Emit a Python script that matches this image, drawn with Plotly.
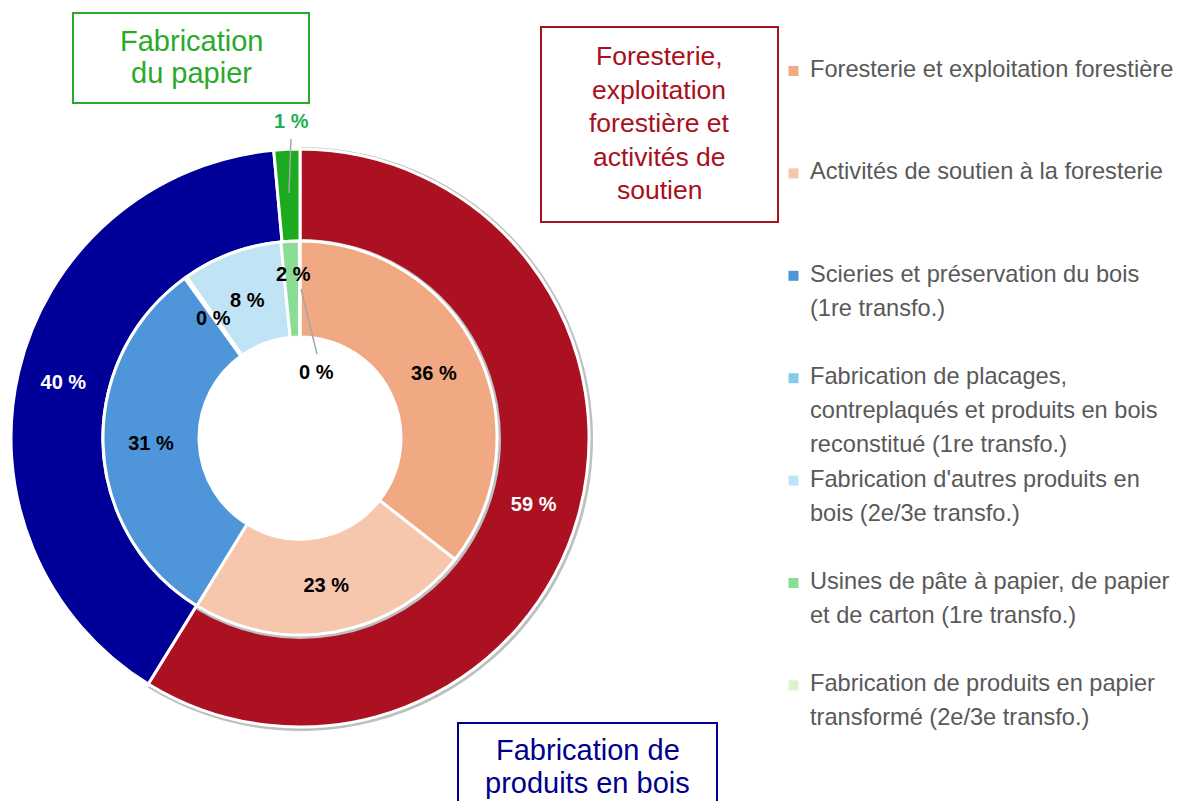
import plotly.graph_objects as go

W, H = 1184, 809          # browser window
OFF = 8                   # default page body margin
FW, FH = W - 2 * OFF, H - 2 * OFF

# ---------------- data ----------------
outer_labels = [
    "Foresterie, exploitation forestière et activités de soutien",
    "Fabrication de produits en bois",
    "Fabrication du papier",
]
outer_values = [58.8, 39.75, 1.45]
outer_colors = ["#AB1120", "#000099", "#1EAA1E"]
outer_shadowed = [True, False, False]

inner_labels = [
    "Foresterie et exploitation forestière",
    "Activités de soutien à la foresterie",
    "Scieries et préservation du bois<br>(1re transfo.)",
    "Fabrication de placages,<br>contreplaqués et produits en bois<br>reconstitué (1re transfo.)",
    "Fabrication d'autres produits en<br>bois (2e/3e transfo.)",
    "Usines de pâte à papier, de papier<br>et de carton (1re transfo.)",
    "Fabrication de produits en papier<br>transformé (2e/3e transfo.)",
]
inner_values = [35.6, 23.2, 31.3, 0.2, 8.2, 1.5, 0.05]
inner_colors = ["#F1A983", "#F6C6AD", "#4E95D9", "#83CAEB", "#C0E4F5", "#89DD94", "#D9F2D0"]
inner_shadowed = [True, True, False, False, False, False, False]

group_titles = [
    ["Foresterie,", "exploitation", "forestière et", "activités de", "soutien"],
    ["Fabrication de", "produits en bois"],
    ["Fabrication", "du papier"],
]
group_colors = ["#A8101E", "#00008B", "#2AAA2A"]

# ---------------- helpers ----------------
def fmt(v):
    return f"{int(v + 0.5)} %"

def px(x):
    return (x - OFF) / FW

def py(y):
    return 1 - (y - OFF) / FH

def dom(cx, cy, r):
    return dict(x=[px(cx - r), px(cx + r)], y=[py(cy + r), py(cy - r)])

CX, CY = 300, 438
R_OUT, R_MID, R_IN = 289, 197, 101
SH = 3
SHADOW = "#BFBFBF"
FONT = "Liberation Sans"

fig = go.Figure()

common = dict(sort=False, direction="clockwise", rotation=0, showlegend=False)

# outer shadow
fig.add_trace(go.Pie(
    labels=outer_labels, values=outer_values,
    marker=dict(colors=[SHADOW if s else "rgba(0,0,0,0)" for s in outer_shadowed], line=dict(width=0)),
    hole=R_MID / (R_OUT + SH), domain=dom(CX + 1, CY + 1, R_OUT + SH),
    textinfo="none", hoverinfo="skip", **common))

# outer ring
fig.add_trace(go.Pie(
    labels=outer_labels, values=outer_values,
    marker=dict(colors=outer_colors, line=dict(color="white", width=3)),
    hole=R_MID / R_OUT, domain=dom(CX, CY, R_OUT),
    text=[fmt(v) if v >= 5 else "" for v in outer_values],
    textinfo="text", textposition="inside", insidetextorientation="horizontal",
    insidetextfont=dict(color="white", size=20, family=FONT, weight="bold"),
    hovertemplate="%{label}: %{value}<extra></extra>", **common))

# inner shadow
fig.add_trace(go.Pie(
    labels=inner_labels, values=inner_values,
    marker=dict(colors=[SHADOW if s else "rgba(0,0,0,0)" for s in inner_shadowed], line=dict(width=0)),
    hole=R_IN / (R_MID + SH), domain=dom(CX + 1, CY + 1, R_MID + SH),
    textinfo="none", hoverinfo="skip", **common))

# inner ring
fig.add_trace(go.Pie(
    labels=inner_labels, values=inner_values,
    marker=dict(colors=inner_colors, line=dict(color="white", width=3)),
    hole=R_IN / R_MID, domain=dom(CX, CY, R_MID),
    text=[fmt(v) if v >= 10 else "" for v in inner_values],
    textinfo="text", textposition="inside", insidetextorientation="horizontal",
    insidetextfont=dict(color="black", size=20, family=FONT, weight="bold"),
    hovertemplate="%{label}: %{value}<extra></extra>", **common))

annotations = []
shapes = []

def ann(text, x, y, color, size, bold=False, xanchor="center"):
    annotations.append(dict(
        text=text, x=px(x), y=py(y), xref="paper", yref="paper",
        xanchor=xanchor, yanchor="middle", showarrow=False,
        font=dict(color=color, size=size, family=FONT, weight="bold" if bold else "normal")))

def line(x0, y0, x1, y1, color="#A6A6A6", width=1.5):
    shapes.append(dict(type="line", xref="paper", yref="paper",
                       x0=px(x0), y0=py(y0), x1=px(x1), y1=py(y1),
                       line=dict(color=color, width=width)))

def rect(x0, y0, x1, y1, color, fill="rgba(0,0,0,0)", width=2):
    shapes.append(dict(type="rect", xref="paper", yref="paper",
                       x0=px(x0), y0=py(y0), x1=px(x1), y1=py(y1),
                       fillcolor=fill, line=dict(color=color, width=width)))

# small-slice labels (some with leader lines)
ann(fmt(outer_values[2]), 291, 121, "#1EAF55", 20, bold=True)
line(291, 139, 289, 193)
ann(fmt(inner_values[3]), 213, 318, "black", 20, bold=True)
ann(fmt(inner_values[4]), 247, 300, "black", 20, bold=True)
ann(fmt(inner_values[5]), 293, 274, "black", 20, bold=True)
ann(fmt(inner_values[6]), 317, 372, "black", 20, bold=True)
line(301, 289, 317, 354)

# group title boxes
rect(541, 27, 778, 222, group_colors[0])
for k, t in enumerate(group_titles[0]):
    ann(t, 659, 56 + k * 33.6, group_colors[0], 26.5)
rect(458, 723, 717, 840, group_colors[1])
for k, t in enumerate(group_titles[1]):
    ann(t, 587.5, 750 + k * 33, group_colors[1], 29)
rect(73, 13, 309, 103, group_colors[2])
for k, t in enumerate(group_titles[2]):
    ann(t, 191, 41.5 + k * 31.5, group_colors[2], 29)

# legend (built from inner series)
LEG_Y0, LEG_PITCH, LEG_LINE = 69, 102.4, 34
for i, (lab, col) in enumerate(zip(inner_labels, inner_colors)):
    y0 = LEG_Y0 + i * LEG_PITCH
    rect(788.5, y0 - 3, 798.5, y0 + 7, col, fill=col, width=0)
    for k, t in enumerate(lab.split("<br>")):
        ann(t, 808, y0 + k * LEG_LINE, "#595959", 23.6, xanchor="left")

fig.update_layout(
    width=FW, height=FH, autosize=False,
    margin=dict(l=0, r=0, t=0, b=0),
    paper_bgcolor="white", plot_bgcolor="white",
    showlegend=False,
    uniformtext=dict(minsize=20, mode="show"),
    annotations=annotations, shapes=shapes,
)

fig.write_html("out.html")
